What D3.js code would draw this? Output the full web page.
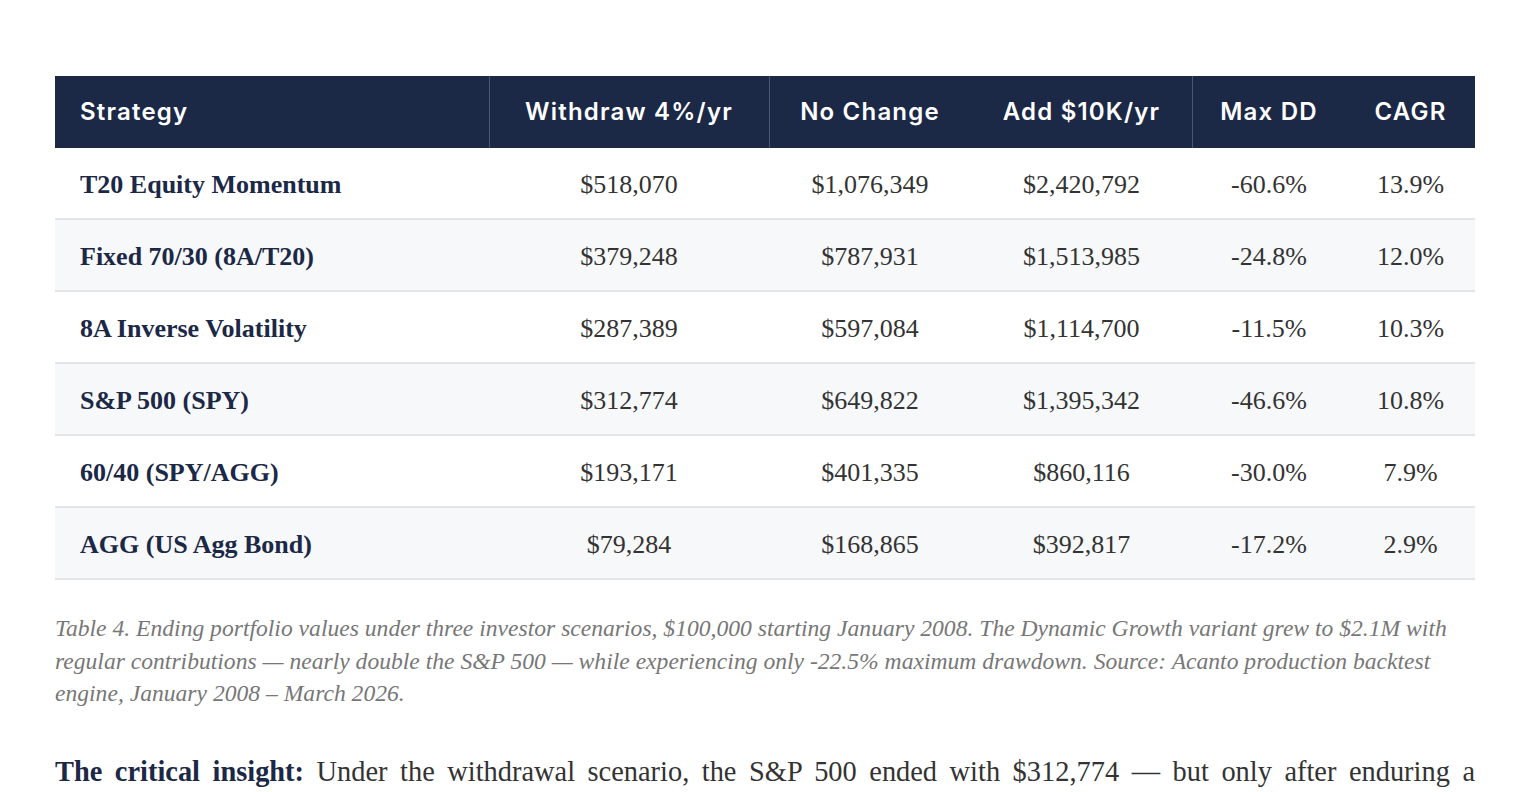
<!DOCTYPE html>
<html><head><meta charset="utf-8">
<script src="https://cdn.jsdelivr.net/npm/d3@7/dist/d3.min.js"></script>
<style>
html,body{margin:0;padding:0;background:#fff;}
svg{display:block;}
</style></head>
<body>
<svg id="chart" width="1530" height="792"></svg>
<script>
const headers = ["Strategy","Withdraw 4%/yr","No Change","Add $10K/yr","Max DD","CAGR"];
const strategies = ["T20 Equity Momentum","Fixed 70/30 (8A/T20)","8A Inverse Volatility","S&P 500 (SPY)","60/40 (SPY/AGG)","AGG (US Agg Bond)"];
const withdraw = [518070,379248,287389,312774,193171,79284];
const noChange = [1076349,787931,597084,649822,401335,168865];
const addContrib = [2420792,1513985,1114700,1395342,860116,392817];
const maxDD = [-60.6,-24.8,-11.5,-46.6,-30.0,-17.2];
const cagr = [13.9,12.0,10.3,10.8,7.9,2.9];
const captionLines = [
 "Table 4. Ending portfolio values under three investor scenarios, $100,000 starting January 2008. The Dynamic Growth variant grew to $2.1M with",
 "regular contributions \u2014 nearly double the S&P 500 \u2014 while experiencing only -22.5% maximum drawdown. Source: Acanto production backtest",
 "engine, January 2008 \u2013 March 2026."
];
const insightBold = "The critical insight:";
const insightText = "Under the withdrawal scenario, the S&P 500 ended with $312,774 \u2014 but only after enduring a";

const svg = d3.select("#chart");
const L = 55, R = 1475, T0 = 76, headH = 72, rowH = 72;
const bounds = [55,489,769,971,1192,1346,1475];
const separators = [489,769,1192];

const money = d3.format("$,");
const pct = v => d3.format(".1f")(v).replace("\u2212","-") + "%";
const rows = strategies.map((s,i)=>[s, money(withdraw[i]), money(noChange[i]), money(addContrib[i]), pct(maxDD[i]), pct(cagr[i])]);

const y = d3.scaleBand().domain(d3.range(rows.length)).range([T0+headH, T0+headH+rowH*rows.length]).paddingInner(0);
const colCenter = j => (bounds[j]+bounds[j+1])/2;

svg.append("rect").attr("x",L).attr("y",T0).attr("width",R-L).attr("height",headH).attr("fill","#1b2846");
separators.forEach(x=>svg.append("line").attr("x1",x+0.5).attr("x2",x+0.5).attr("y1",T0).attr("y2",T0+headH).attr("stroke","#4d5770").attr("stroke-width",1));
headers.forEach((h,j)=>{
  svg.append("text").text(h)
    .attr("x", j===0 ? 80 : colCenter(j))
    .attr("y", T0+headH/2-1)
    .attr("text-anchor", j===0 ? "start":"middle")
    .attr("dominant-baseline","central")
    .attr("fill","#ffffff")
    .attr("font-family","Inter, 'Open Sans', sans-serif")
    .attr("font-weight",600)
    .attr("font-size",24)
    .attr("letter-spacing",1.2);
});

const g = svg.selectAll("g.row").data(rows).join("g").attr("class","row");
g.append("rect").attr("x",L).attr("y",(d,i)=>y(i)).attr("width",R-L).attr("height",y.bandwidth())
  .attr("fill",(d,i)=> i%2===1 ? "#f7f8fa" : "#ffffff");
g.append("line").attr("x1",L).attr("x2",R).attr("y1",(d,i)=>y(i)+rowH-1).attr("y2",(d,i)=>y(i)+rowH-1)
  .attr("stroke","#e3e5e8").attr("stroke-width",2);
g.each(function(d,i){
  const gg = d3.select(this);
  d.forEach((v,j)=>{
    gg.append("text").text(v)
      .attr("x", j===0 ? 80 : colCenter(j))
      .attr("y", y(i)+rowH/2)
      .attr("text-anchor", j===0 ? "start":"middle")
      .attr("dominant-baseline","central")
      .attr("fill", j===0 ? "#1b2846" : "#333333")
      .attr("font-family","'Liberation Serif', 'Times New Roman', serif")
      .attr("font-weight", j===0 ? 700 : 400)
      .attr("font-size",26);
  });
});

captionLines.forEach((t,k)=>{
  svg.append("text").text(t)
    .attr("x",L).attr("y",628+k*32.5)
    .attr("dominant-baseline","central")
    .attr("fill","#777777")
    .attr("font-family","'Liberation Serif', serif")
    .attr("font-style","italic")
    .attr("font-size",23.6);
});

const p = svg.append("text").attr("x",L).attr("y",771).attr("dominant-baseline","central")
  .attr("font-family","'Liberation Serif', serif").attr("font-size",28.4);
p.append("tspan").text(insightBold).attr("font-weight",700).attr("fill","#1b2846");
p.append("tspan").text(" " + insightText).attr("fill","#333333");
const natural = p.node().getComputedTextLength();
const nSpaces = (insightBold + " " + insightText).split(" ").length - 1;
p.attr("word-spacing", Math.max(0,(R-L-natural)/nSpaces));
</script>
</body></html>
